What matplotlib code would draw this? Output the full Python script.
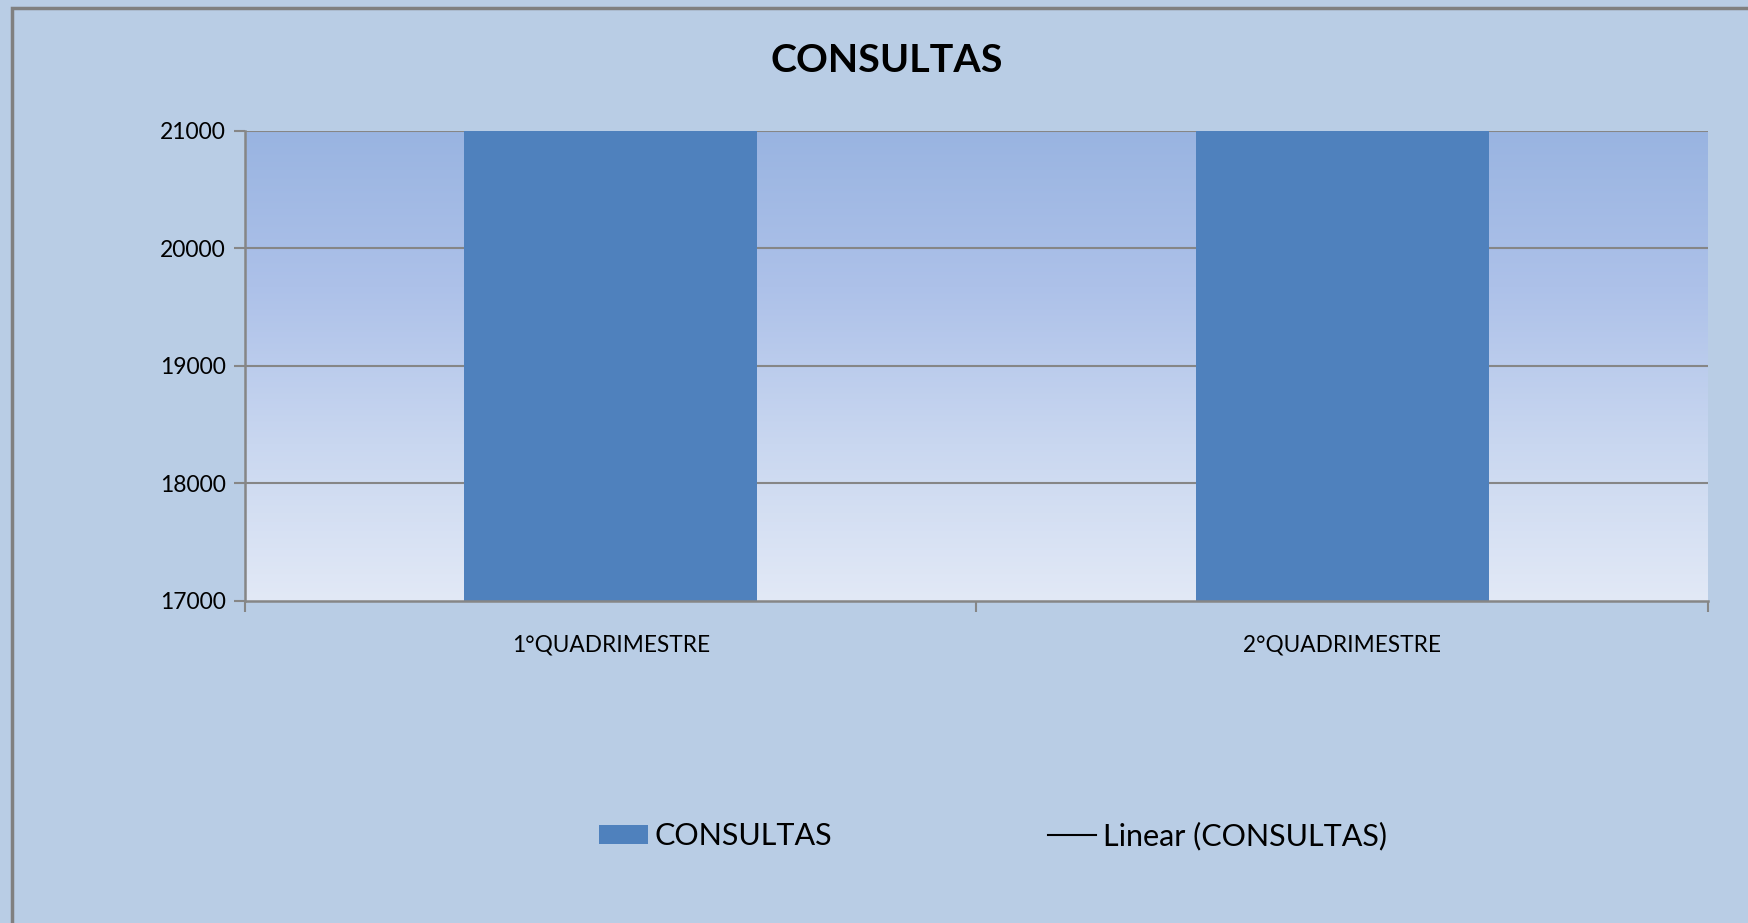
import numpy as np
import matplotlib
matplotlib.use("Agg")
import matplotlib.pyplot as plt
from matplotlib.patches import Rectangle, Patch
from matplotlib.lines import Line2D
from matplotlib.colors import LinearSegmentedColormap

plt.rcParams['font.family'] = ['Lato', 'DejaVu Sans']

# Data (bars extend beyond the 21000 axis maximum in the reference)
categories = ["1°QUADRIMESTRE", "2°QUADRIMESTRE"]
consultas = [23800, 23200]
y_ticks = [17000, 18000, 19000, 20000, 21000]
title = "CONSULTAS"

W, H = 1749, 923
fig = plt.figure(figsize=(W / 100, H / 100), dpi=100)
fig.patch.set_facecolor("#B9CDE5")

# chart border (left/top visible, right/bottom run off the image)
fig.patches.append(Rectangle((12 / W, -0.05), 1.2, 1 - 8 / H + 0.05,
                             transform=fig.transFigure, fill=False,
                             edgecolor="#808080", linewidth=2.5, zorder=0))

ax = fig.add_axes([245 / W, 1 - 601 / H, (1708 - 245) / W, (601 - 130.5) / H])
ax.set_facecolor("none")

x = np.arange(len(categories))
ax.set_xlim(-0.5, len(categories) - 0.5)
ax.set_ylim(y_ticks[0], y_ticks[-1])

# gradient plot area background
cmap = LinearSegmentedColormap.from_list("g", ["#E2E9F6", "#C9D7F0", "#ADC1E9", "#99B4E1"])
grad = np.linspace(0, 1, 256).reshape(-1, 1)
ax.imshow(grad, aspect="auto", cmap=cmap, origin="lower",
          extent=[-0.5, len(categories) - 0.5, y_ticks[0], y_ticks[-1]], zorder=0)

# gridlines
for yv in y_ticks[1:]:
    ax.axhline(yv, color="#868686", linewidth=1.5, zorder=1)

ax.bar(x, consultas, width=0.4, color="#4F81BD", zorder=2)

# linear trendline
coef = np.polyfit(x, consultas, 1)
ax.plot(x, np.polyval(coef, x), color="black", linewidth=1.5, zorder=3)

ax.set_yticks(y_ticks)
ax.set_yticklabels([str(v) for v in y_ticks], fontsize=16.5)
ax.set_xticks(x)
ax.set_xticklabels(categories, fontsize=16.3)
ax.set_xticks([-0.5, 0.5, 1.5], minor=True)
ax.tick_params(axis="x", which="major", length=0, pad=24)
ax.tick_params(axis="x", which="minor", length=8, width=1.5, color="#868686", direction="out")
ax.tick_params(axis="y", length=8, width=1.5, color="#868686", direction="out", pad=6)

for s in ["top", "right"]:
    ax.spines[s].set_visible(False)
for s in ["left", "bottom"]:
    ax.spines[s].set_color("#868686")
    ax.spines[s].set_linewidth(1.8)
    ax.spines[s].set_zorder(4)

fig.text(887 / W, 1 - 61 / H, title, ha="center", va="center",
         fontsize=28.4, fontweight="bold")

handles = [Patch(facecolor="#4F81BD", edgecolor="none"),
           Line2D([0], [0], color="black", linewidth=1.5)]
fig.legend(handles, ["CONSULTAS", "Linear (CONSULTAS)"], loc="center",
           bbox_to_anchor=(993 / W, 1 - 836 / H), ncol=2, frameon=False,
           fontsize=22, handlelength=1.6, handleheight=0.6, handletextpad=0.2,
           columnspacing=7.05)

fig.savefig("out.png", dpi=100, facecolor=fig.get_facecolor())
